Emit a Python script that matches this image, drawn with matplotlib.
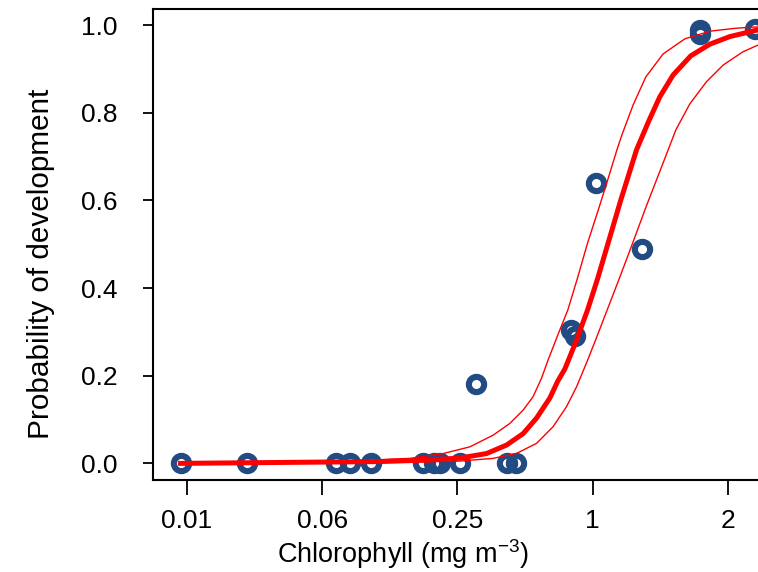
import matplotlib
matplotlib.use("Agg")
import matplotlib.pyplot as plt

plt.rcParams['font.family'] = ['Liberation Sans', 'DejaVu Sans']
plt.rcParams['mathtext.fontset'] = 'custom'
plt.rcParams['mathtext.rm'] = 'Liberation Sans'

# tick positions (equally spaced) and their chlorophyll labels
tick_pos = [0, 1, 2, 3, 4]
tick_labels = ['0.01', '0.06', '0.25', '1', '2']

# observed points (position on the chlorophyll axis, probability)
obs_x = [-0.047, 0.446, 1.099, 1.205, 1.358, 1.747, 1.826, 1.871, 2.019, 2.364, 2.433,
         2.137, 2.840, 2.869, 3.024, 3.364, 3.793, 3.793, 4.20]
obs_p = [0.0, 0.0, 0.0, 0.0, 0.0, 0.0, 0.0, 0.0, 0.0, 0.0, 0.0,
         0.182, 0.304, 0.29, 0.64, 0.489, 0.99, 0.98, 0.991]

# fitted curve (thick)
fit_x = [-0.047, 0.835, 1.427, 1.772, 2.019, 2.216, 2.364, 2.487, 2.586, 2.684, 2.743,
         2.795, 2.876, 2.963, 3.039, 3.113, 3.209, 3.325, 3.416, 3.497, 3.596, 3.726,
         3.867, 4.015, 4.222]
fit_p = [0.0, 0.0025, 0.0041, 0.0075, 0.0121, 0.0224, 0.0418, 0.068, 0.1034, 0.1491, 0.1879,
         0.2153, 0.2769, 0.350, 0.4231, 0.5007, 0.6011, 0.7153, 0.7815, 0.8363, 0.8865, 0.9299,
         0.9566, 0.974, 0.9893]

# upper confidence band
up_x = [-0.047, 0.835, 1.279, 1.649, 1.895, 2.092, 2.265, 2.388, 2.487, 2.560, 2.623,
        2.671, 2.743, 2.817, 2.891, 2.961, 3.054, 3.128, 3.180, 3.217, 3.300, 3.394,
        3.522, 3.682, 3.867, 4.064, 4.222]
up_p = [0.0, 0.003, 0.0064, 0.0114, 0.0224, 0.0377, 0.0644, 0.0911, 0.1217, 0.1521, 0.1947,
        0.2358, 0.2929, 0.350, 0.4253, 0.5007, 0.5897, 0.6628, 0.7153, 0.7495, 0.818, 0.882,
        0.9345, 0.9687, 0.9863, 0.9932, 0.9961]

# lower confidence band
lo_x = [-0.047, 1.205, 1.723, 2.019, 2.265, 2.438, 2.586, 2.708, 2.807, 2.881, 2.958,
        3.032, 3.108, 3.202, 3.294, 3.401, 3.516, 3.616, 3.719, 3.843, 3.966, 4.113, 4.222]
lo_p = [0.0, 0.002, 0.0034, 0.0053, 0.0114, 0.0228, 0.0457, 0.0836, 0.1292, 0.1742, 0.2313,
        0.2891, 0.350, 0.4253, 0.5007, 0.5897, 0.6811, 0.761, 0.8203, 0.8712, 0.9091, 0.9395,
        0.9543]

fig = plt.figure(figsize=(7.58, 5.72), dpi=100)
ax = fig.add_axes([0.2018, 0.1608, 0.827, 0.8235])

ax.plot(obs_x, obs_p, 'o', ms=11, mfc='none', mec='#214b82', mew=4.4, zorder=2,
        clip_on=False)
ax.plot(fit_x, fit_p, color='red', lw=3.6, zorder=3, solid_joinstyle='round')
ax.plot(up_x, up_p, color='red', lw=1.0, zorder=3, solid_joinstyle='round')
ax.plot(lo_x, lo_p, color='red', lw=1.0, zorder=3, solid_joinstyle='round')

ax.set_xlim(-0.251, 4.385)
ax.set_ylim(-0.038, 1.037)
ax.set_xticks(tick_pos)
ax.set_xticklabels(tick_labels)
ax.set_yticks([0.0, 0.2, 0.4, 0.6, 0.8, 1.0])
ax.set_yticklabels(['0.0', '0.2', '0.4', '0.6', '0.8', '1.0'])
ax.tick_params(axis='both', direction='out', width=1.3, labelsize=19, color='black')
ax.tick_params(axis='x', length=11, pad=10)
ax.tick_params(axis='y', length=7.2, pad=18)
for s in ax.spines.values():
    s.set_linewidth(1.5)

ax.set_xlabel('Chlorophyll (mg m$^{\\mathregular{-3}}$)', fontsize=19.5, labelpad=3)
ax.set_ylabel('Probability of development', fontsize=21.4, labelpad=19)
ax.xaxis.label.set_x(0.399)
ax.yaxis.label.set_y(0.46)

fig.savefig('out.png', dpi=100)
